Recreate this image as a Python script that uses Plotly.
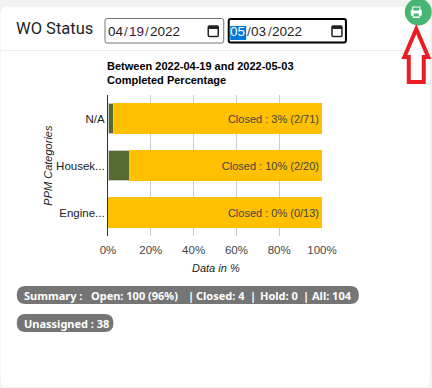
import plotly.graph_objects as go

# ---- data ----
categories = ["N/A", "Housek...", "Engine..."]
closed_pct = [2.8, 10, 0]
rest_pct = [97.2, 90, 100]
bar_labels = ["Closed : 3% (2/71)", "Closed : 10% (2/20)", "Closed : 0% (0/13)"]
tick_vals = [0, 20, 40, 60, 80, 100]
tick_text = ["0%", "20%", "40%", "60%", "80%", "100%"]
chart_title = ["Between 2022-04-19 and 2022-05-03", "Completed Percentage"]
chips_row1 = ["Summary :", "Open: 100 (96%)", "|", "Closed: 4", "|", "Hold: 0", "|", "All: 104"]
chips_row1_x = [24, 91, 188, 197, 251, 261, 304, 313]
chip_row2 = "Unassigned : 38"

W, H = 432, 388
L, R, T, B = 107.5, 322.0, 95.0, 236.0
SANS = "Liberation Sans, Arial, sans-serif"
def X(p): return (p - L) / (R - L)
def Y(p): return (B - p) / (B - T)

def rrect(x0, y0, x1, y1, r):
    return (f"M{X(x0+r)},{Y(y0)} L{X(x1-r)},{Y(y0)} Q{X(x1)},{Y(y0)} {X(x1)},{Y(y0+r)} "
            f"L{X(x1)},{Y(y1-r)} Q{X(x1)},{Y(y1)} {X(x1-r)},{Y(y1)} "
            f"L{X(x0+r)},{Y(y1)} Q{X(x0)},{Y(y1)} {X(x0)},{Y(y1-r)} "
            f"L{X(x0)},{Y(y0+r)} Q{X(x0)},{Y(y0)} {X(x0+r)},{Y(y0)} Z")

shapes = []
def add_path(path, fill="rgba(0,0,0,0)", line=None, width=0, layer="below"):
    shapes.append(dict(type="path", xref="paper", yref="paper", path=path, fillcolor=fill,
                       line=dict(color=line or "rgba(0,0,0,0)", width=width), layer=layer))
def add_rect(x0, y0, x1, y1, fill="rgba(0,0,0,0)", line=None, width=0, r=0):
    add_path(rrect(x0, y0, x1, y1, r) if r else
             f"M{X(x0)},{Y(y0)} L{X(x1)},{Y(y0)} L{X(x1)},{Y(y1)} L{X(x0)},{Y(y1)} Z",
             fill, line, width)

annotations = []
def text(x, y, s, size=12, color="#222", family=SANS, anchor="left", bold=False, italic=False, angle=0):
    if anchor == "left":
        x -= 0.8
    if bold: s = f"<b>{s}</b>"
    if italic: s = f"<i>{s}</i>"
    annotations.append(dict(xref="paper", yref="paper", x=X(x), y=Y(y), text=s, showarrow=False,
                            xanchor=anchor, yanchor="middle", textangle=angle,
                            font=dict(size=size, color=color, family=family),
                            borderpad=0, borderwidth=0, align="left"))

# card
add_rect(0, 7, 430, 387, fill="#ffffff", r=6)
add_rect(1, 50, 430, 51, fill="#eeeeee")
text(16, 28, "WO Status", size=16.5, color="#212529", family="Roboto, sans-serif")

# date inputs
add_rect(104.5, 18.5, 223.5, 43, fill="#fff", line="#767676", width=1, r=2)
add_rect(228.5, 19, 346, 42.5, fill="#fff", line="#000", width=2, r=2)
add_rect(230, 26, 246, 40, fill="#0078d7")
for dx, parts in ((108, (("04", "#222"), ("/", "#444"), ("19", "#4a1248"), ("/", "#444"), ("2022", "#222"))),
                  (231, (("05", "#fff"), ("/", "#444"), ("03", "#222"), ("/", "#444"), ("2022", "#222")))):
    offsets = (0, 16.5, 21, 37.5, 42)
    for off, (s, c) in zip(offsets, parts):
        text(dx + off, 32, s, size=13.5, color=c)
for cx in (213, 337):
    add_rect(cx - 5, 26, cx + 5, 36.5, line="#222", width=1.5, r=1)
    add_rect(cx - 5, 26, cx + 5, 29, fill="#222")

# print button
shapes.append(dict(type="circle", xref="paper", yref="paper", x0=X(405), x1=X(432), y0=Y(-1.5), y1=Y(25.5),
                   fillcolor="#48b573", line=dict(width=0), layer="below"))
add_rect(411, 9.5, 422, 16, fill="#fff", r=1.5)
add_rect(412.5, 6.5, 420.5, 11, fill="#fff")
add_rect(413.5, 7.5, 419.5, 10.5, fill="#48b573")
add_rect(413, 14, 420, 18, fill="#fff")
add_rect(414, 13.5, 419, 16.5, fill="#48b573")
# red arrow
pts = [(416.5, 29), (428.5, 57), (424, 57), (424, 82), (409, 82), (409, 57), (404.5, 57)]
add_path("M" + " L".join(f"{X(a)},{Y(b)}" for a, b in pts) + " Z", fill="#fff", line="#ed1c24", width=4)

# chips
add_rect(16, 286, 359, 304, fill="#757575", r=9)
add_rect(16, 314, 113, 332, fill="#757575", r=9)
CHIP = "Noto Sans, sans-serif"
for x, s in zip(chips_row1_x, chips_row1):
    text(x, 295, s, size=11, color="#fff", family=CHIP, bold=True)
text(24, 323, chip_row2, size=11, color="#fff", family=CHIP, bold=True)

# chart title
text(L, 66, chart_title[0], size=11, color="#000", bold=True)
text(L, 80, chart_title[1], size=11, color="#000", bold=True)
# axis titles
text(215.5, 268, "Data in %", size=11, color="#222", anchor="center", italic=True)
text(47, 165, "PPM Categories", size=11, color="#222", anchor="center", italic=True, angle=-90)

fig = go.Figure()
fig.add_bar(y=categories, x=closed_pct, orientation="h", marker=dict(color="#556b2f", line=dict(color="#cccccc", width=1)),
            hoverinfo="skip")
fig.add_bar(y=categories, x=rest_pct, orientation="h", marker=dict(color="#ffc000", line=dict(width=0)),
            text=bar_labels, textposition="inside", insidetextanchor="end", textangle=0,
            constraintext="none", insidetextfont=dict(size=11, color="#444", family=SANS), hoverinfo="skip")
fig.update_layout(
    width=W, height=H, autosize=False, barmode="stack", bargap=0.36, showlegend=False,
    margin=dict(l=L, r=W - R, t=T, b=H - B, pad=0),
    paper_bgcolor="#f2f2f2", plot_bgcolor="rgba(0,0,0,0)",
    shapes=shapes, annotations=annotations,
    xaxis=dict(range=[0, 100], tickvals=tick_vals, ticktext=tick_text, showgrid=True, gridcolor="#cccccc", gridwidth=1,
               zeroline=False, showline=False, ticks="outside", ticklen=3, tickcolor="rgba(0,0,0,0)",
               tickfont=dict(size=11.5, color="#444", family=SANS), automargin=False),
    yaxis=dict(autorange="reversed", showgrid=False, showline=True, linecolor="#333", linewidth=1, ticks="", zeroline=False,
               tickfont=dict(size=11.5, color="#222", family=SANS), automargin=False),
)
fig.write_html("out.html", config=dict(displayModeBar=False),
               post_script="document.body.style.margin='0';")
